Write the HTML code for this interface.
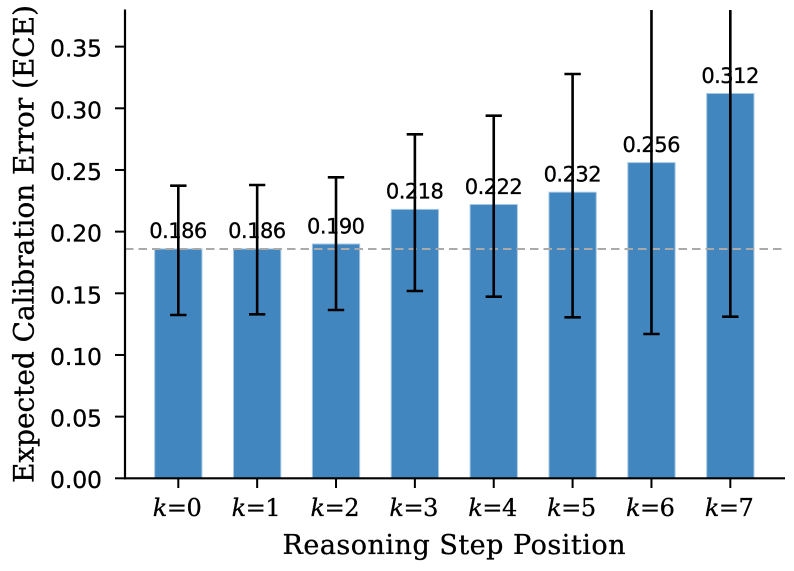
<!DOCTYPE html>
<html><head><meta charset="utf-8"><style>
html,body{margin:0;padding:0;background:#fff;}
svg{display:block;}
text{stroke:#000;stroke-width:0.3px;}
</style></head><body>
<svg width="794" height="571" viewBox="0 0 794 571" xmlns="http://www.w3.org/2000/svg">
<defs><clipPath id="ax"><rect x="125" y="10" width="660" height="470"/></clipPath></defs>
<!-- bars -->
<g fill="#4286c0" stroke="#a6c8e4" stroke-width="1">
<rect x="154.65" y="248.9" width="47.3" height="229.4"/>
<rect x="233.51" y="248.9" width="47.3" height="229.4"/>
<rect x="312.37" y="244.0" width="47.3" height="234.3"/>
<rect x="391.23" y="209.4" width="47.3" height="268.9"/>
<rect x="470.09" y="204.5" width="47.3" height="273.8"/>
<rect x="548.95" y="192.2" width="47.3" height="286.1"/>
<rect x="627.81" y="162.6" width="47.3" height="315.7"/>
<rect x="706.67" y="93.5" width="47.3" height="384.8"/>
</g>
<!-- dashed ref line -->
<line x1="125" y1="249" x2="785" y2="249" stroke="#aaaaaa" stroke-width="2" stroke-dasharray="8.5,5"/>
<!-- error bars -->
<g stroke="#000" stroke-width="2.6" clip-path="url(#ax)" fill="none">
<path d="M178.3 185.7V315 M170.1 185.7H186.5 M170.1 315H186.5"/>
<path d="M257.16 185V314.3 M249 185H265.3 M249 314.3H265.3"/>
<path d="M336.02 177.3V310 M327.8 177.3H344.2 M327.8 310H344.2"/>
<path d="M414.88 134.3V291 M406.7 134.3H423.1 M406.7 291H423.1"/>
<path d="M493.74 115.7V296.7 M485.6 115.7H501.9 M485.6 296.7H501.9"/>
<path d="M572.6 74V317.3 M564.4 74H580.8 M564.4 317.3H580.8"/>
<path d="M651.46 0V334 M643.3 334H659.6"/>
<path d="M730.32 0V316.7 M722.1 316.7H738.5"/>
</g>
<!-- value labels -->
<g font-family="DejaVu Sans, Liberation Sans, sans-serif" font-size="21" text-anchor="middle" fill="#000">
<text x="178.3" y="238.2" textLength="58">0.186</text>
<text x="257.16" y="238.2" textLength="58">0.186</text>
<text x="336.02" y="233.3" textLength="58">0.190</text>
<text x="414.88" y="198.7" textLength="58">0.218</text>
<text x="493.74" y="193.8" textLength="58">0.222</text>
<text x="572.6" y="181.5" textLength="58">0.232</text>
<text x="651.46" y="151.9" textLength="58">0.256</text>
<text x="730.32" y="82.8" textLength="58">0.312</text>
</g>
<!-- spines -->
<g stroke="#000" stroke-width="2.2" fill="none">
<line x1="125" y1="9.5" x2="125" y2="479.4"/>
<line x1="123.9" y1="478.3" x2="785" y2="478.3"/>
</g>
<!-- y ticks -->
<g stroke="#000" stroke-width="2">
<line x1="115" y1="478.3" x2="125" y2="478.3"/>
<line x1="115" y1="416.63" x2="125" y2="416.63"/>
<line x1="115" y1="354.97" x2="125" y2="354.97"/>
<line x1="115" y1="293.3" x2="125" y2="293.3"/>
<line x1="115" y1="231.63" x2="125" y2="231.63"/>
<line x1="115" y1="169.97" x2="125" y2="169.97"/>
<line x1="115" y1="108.3" x2="125" y2="108.3"/>
<line x1="115" y1="46.63" x2="125" y2="46.63"/>
</g>
<g font-family="DejaVu Sans, Liberation Sans, sans-serif" font-size="23.5" text-anchor="end" fill="#000">
<text x="102" y="488.2" textLength="52">0.00</text>
<text x="102" y="426.6" textLength="52">0.05</text>
<text x="102" y="364.9" textLength="52">0.10</text>
<text x="102" y="303.3" textLength="52">0.15</text>
<text x="102" y="241.6" textLength="52">0.20</text>
<text x="102" y="179.9" textLength="52">0.25</text>
<text x="102" y="118.3" textLength="52">0.30</text>
<text x="102" y="56.6" textLength="52">0.35</text>
</g>
<!-- x ticks -->
<g stroke="#000" stroke-width="2">
<line x1="178.3" y1="478.3" x2="178.3" y2="488"/>
<line x1="257.16" y1="478.3" x2="257.16" y2="488"/>
<line x1="336.02" y1="478.3" x2="336.02" y2="488"/>
<line x1="414.88" y1="478.3" x2="414.88" y2="488"/>
<line x1="493.74" y1="478.3" x2="493.74" y2="488"/>
<line x1="572.6" y1="478.3" x2="572.6" y2="488"/>
<line x1="651.46" y1="478.3" x2="651.46" y2="488"/>
<line x1="730.32" y1="478.3" x2="730.32" y2="488"/>
</g>
<g font-family="DejaVu Serif, Liberation Serif, serif" font-size="24" text-anchor="middle" fill="#000">
<text x="177.3" y="515.8" textLength="49"><tspan font-style="italic">k</tspan>=0</text>
<text x="256.16" y="515.8" textLength="49"><tspan font-style="italic">k</tspan>=1</text>
<text x="335.02" y="515.8" textLength="49"><tspan font-style="italic">k</tspan>=2</text>
<text x="413.88" y="515.8" textLength="49"><tspan font-style="italic">k</tspan>=3</text>
<text x="492.74" y="515.8" textLength="49"><tspan font-style="italic">k</tspan>=4</text>
<text x="571.6" y="515.8" textLength="49"><tspan font-style="italic">k</tspan>=5</text>
<text x="650.46" y="515.8" textLength="49"><tspan font-style="italic">k</tspan>=6</text>
<text x="729.32" y="515.8" textLength="49"><tspan font-style="italic">k</tspan>=7</text>
</g>
<!-- axis labels -->
<text x="454" y="554" font-family="DejaVu Serif, Liberation Serif, serif" font-size="27" text-anchor="middle" textLength="343" fill="#000">Reasoning Step Position</text>
<text transform="translate(33.3,244) rotate(-90)" x="0" y="0" font-family="DejaVu Serif, Liberation Serif, serif" font-size="28" text-anchor="middle" textLength="478" fill="#000">Expected Calibration Error (ECE)</text>
</svg>
</body></html>
